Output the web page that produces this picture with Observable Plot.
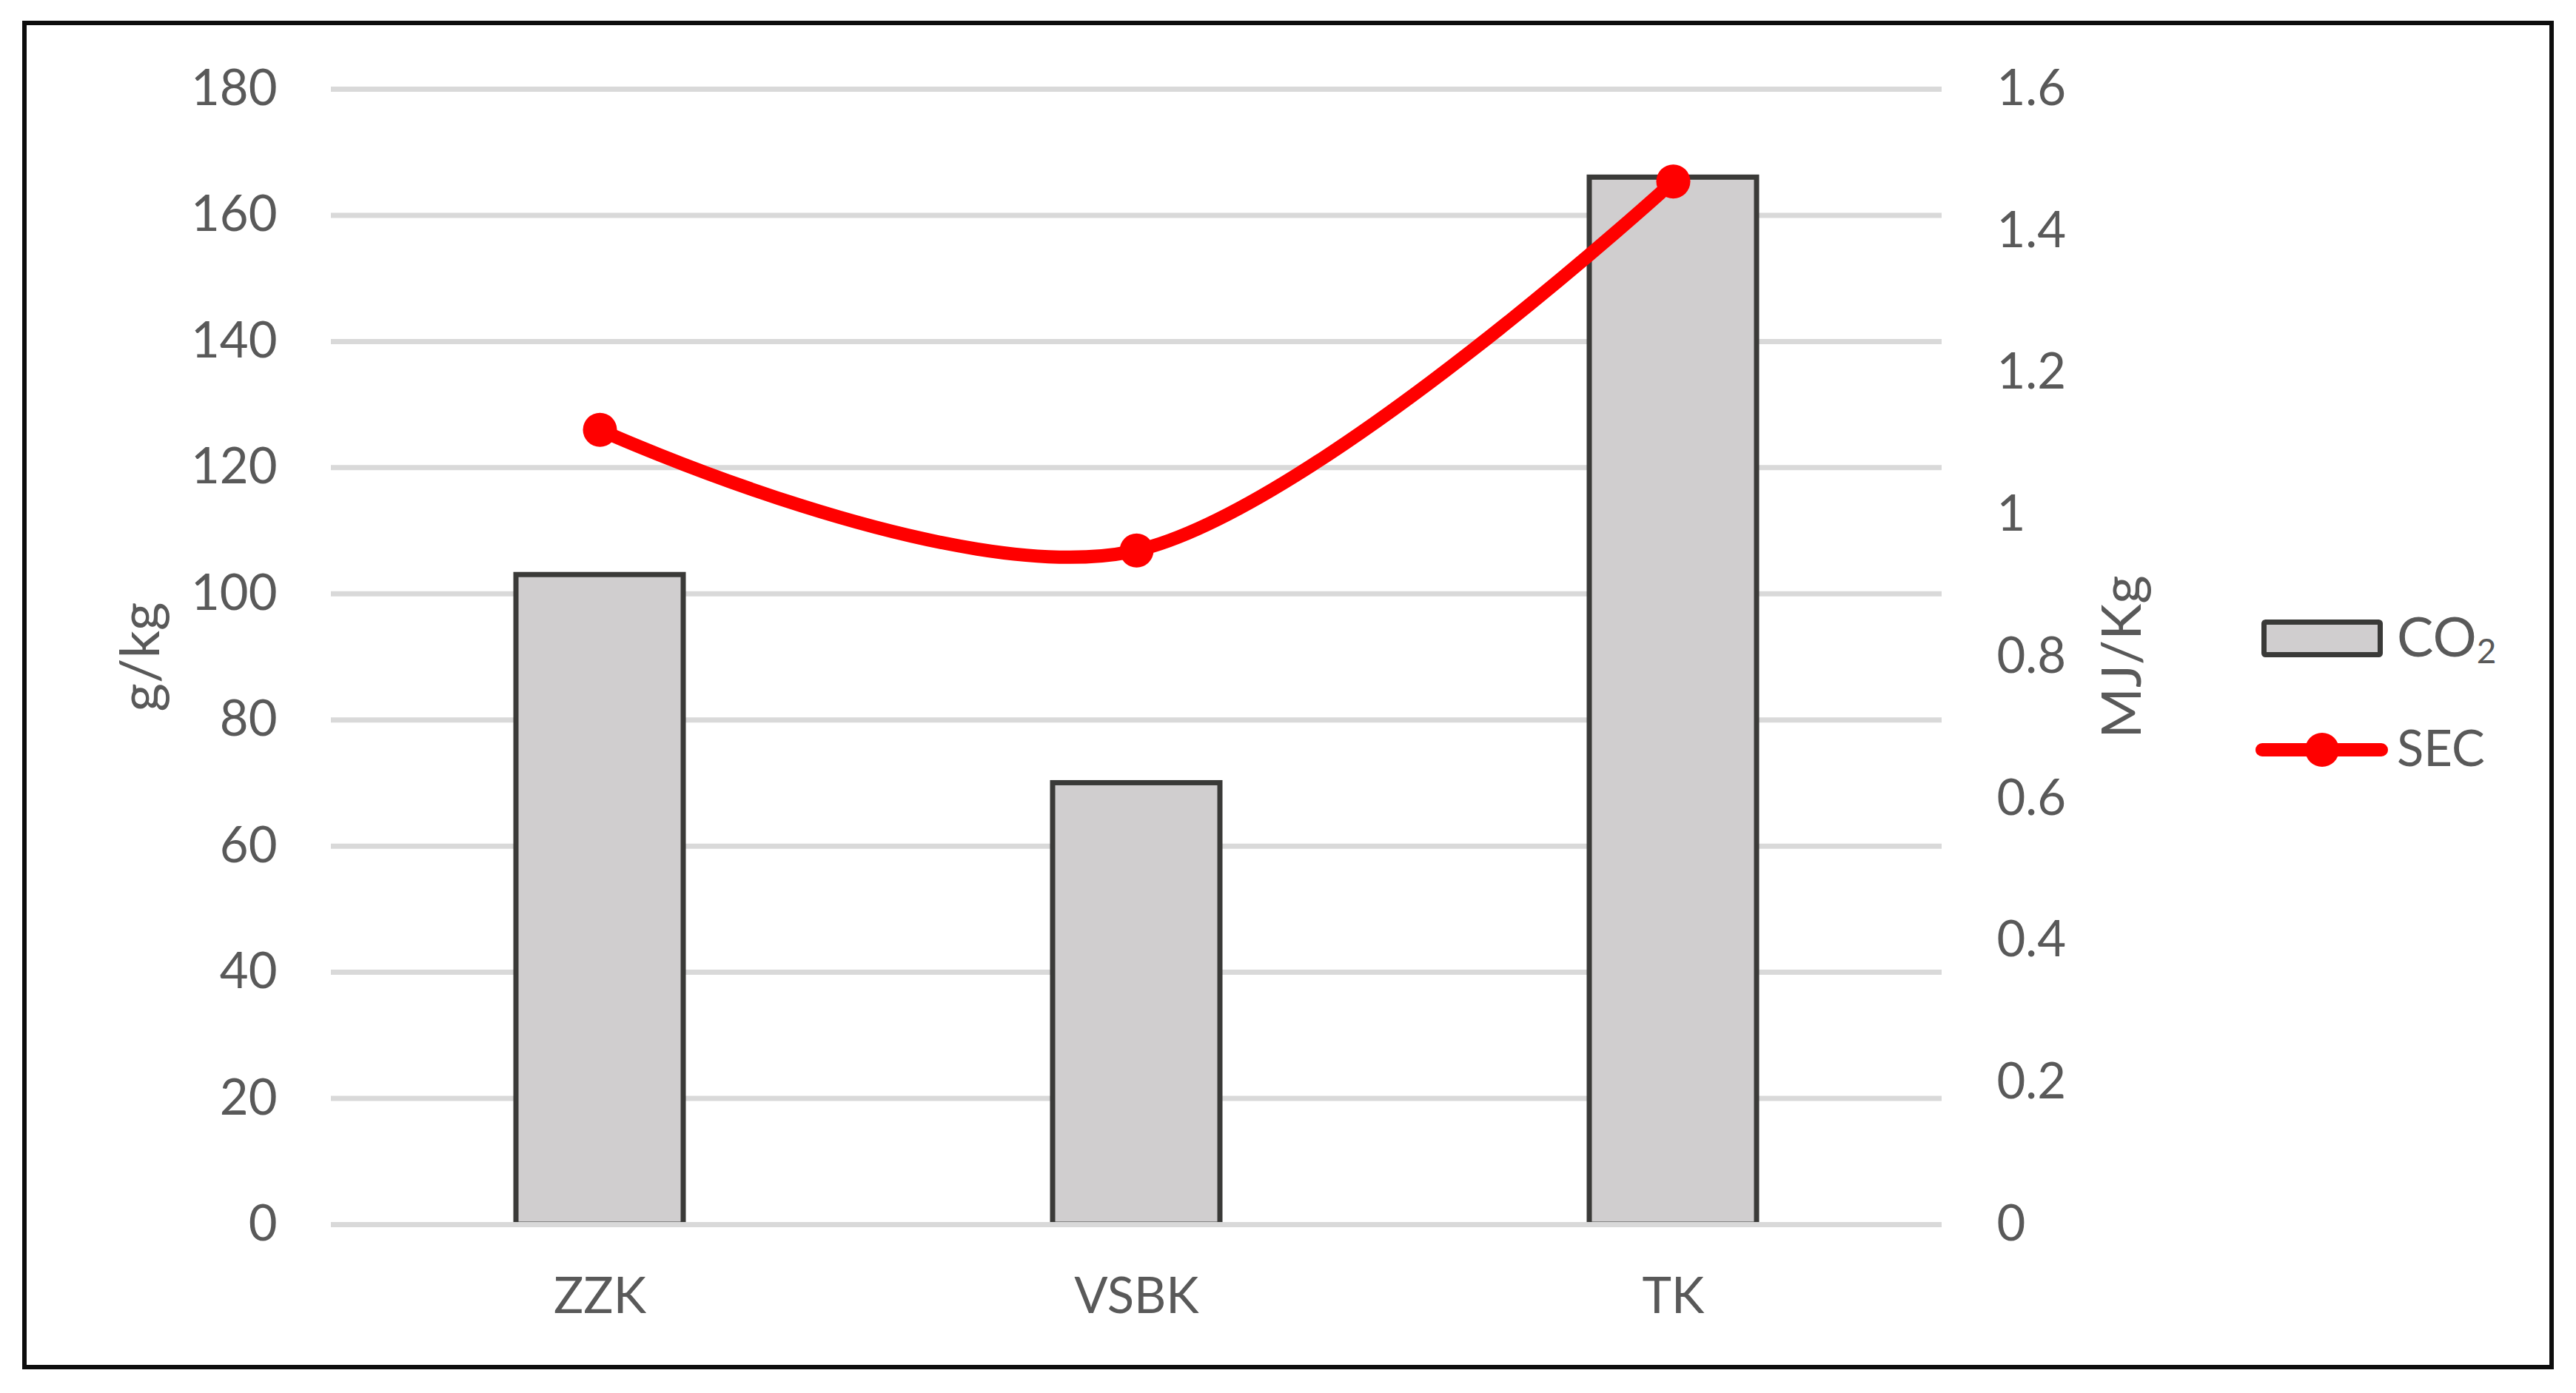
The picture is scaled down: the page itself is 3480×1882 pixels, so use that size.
<!DOCTYPE html>
<html><head><meta charset="utf-8">
<script src="https://cdn.jsdelivr.net/npm/d3@7"></script>
<script src="https://cdn.jsdelivr.net/npm/@observablehq/plot@0.6"></script>
<style>html,body{margin:0;padding:0;background:#fff;} #chart{width:3480px;height:1882px;}</style>
</head><body><div id="chart"></div>
<script>
const categories = ["ZZK", "VSBK", "TK"];
const co2 = [103, 70, 166];
const sec = [1.12, 0.95, 1.47];
const leftTicks = [0, 20, 40, 60, 80, 100, 120, 140, 160, 180];
const rightTicks = [0, 0.2, 0.4, 0.6, 0.8, 1, 1.2, 1.4, 1.6];
const leftLabel = "g/kg";
const rightLabel = "MJ/Kg";
const seriesNames = ["CO", "2", "SEC"]; // CO₂ is drawn as CO + subscript 2

const leftMax = 180, rightMax = 1.6, k = leftMax / rightMax;
const rows = categories.map((c, i) => ({cat: c, co2: co2[i], sec: sec[i], secScaled: sec[i] * k}));

const FONT = "Lato, 'Open Sans', sans-serif";
const TEXT = "#595959";
const BAR_FILL = "#D0CECF", BAR_STROKE = "#3A3A38", GRID = "#D9D9D9", RED = "#FF0000";

const plot = Plot.plot({
  width: 3480, height: 1882,
  marginLeft: 447, marginRight: 857, marginTop: 120, marginBottom: 228,
  style: {fontFamily: FONT, fontSize: "67px", color: TEXT, background: "#fff", overflow: "visible"},
  x: {type: "band", domain: categories, paddingInner: 0.688, paddingOuter: 0.344, label: null},
  y: {domain: [0, leftMax], label: null},
  marks: [
    Plot.gridY(leftTicks, {stroke: GRID, strokeOpacity: 1, strokeWidth: 7}),
    Plot.barY(rows, {x: "cat", y: "co2", fill: BAR_FILL, stroke: BAR_STROKE, strokeWidth: 7}),
    Plot.ruleY([0], {stroke: GRID, strokeOpacity: 1, strokeWidth: 7}),
    Plot.line(rows, {x: "cat", y: "secScaled", stroke: RED, strokeWidth: 18, curve: d3.curveCardinal.tension(0)}),
    Plot.dot(rows, {x: "cat", y: "secScaled", r: 23, fill: RED, stroke: "none"}),
    Plot.axisY({ticks: leftTicks, anchor: "left", tickSize: 0, tickPadding: 73, label: null}),
    Plot.axisY({ticks: rightTicks.map(v => v * k), anchor: "right", tickSize: 0, tickPadding: 74,
      tickFormat: d => String(+(d / k).toFixed(1)), label: null}),
    Plot.axisX({tickSize: 0, tickPadding: 72, label: null}),
    Plot.text([leftLabel], {text: d => d, frameAnchor: "left", textAnchor: "middle", lineAnchor: "middle",
      dx: -256, rotate: -90, fontSize: 74, fill: TEXT}),
    Plot.text([rightLabel], {text: d => d, frameAnchor: "right", textAnchor: "middle", lineAnchor: "middle",
      dx: 245, rotate: -90, fontSize: 74, fill: TEXT})
  ]
});

const svg = d3.select(plot);
// outer border
svg.append("rect").attr("x", 33).attr("y", 31).attr("width", 3414).attr("height", 1816)
  .attr("fill", "none").attr("stroke", "#0D0D0D").attr("stroke-width", 6);

// legend
const lg = svg.append("g").attr("font-family", FONT).attr("fill", TEXT).attr("text-anchor", "start");
lg.append("rect").attr("x", 3058.5).attr("y", 840.5).attr("width", 157).attr("height", 44)
  .attr("fill", BAR_FILL).attr("stroke", BAR_STROKE).attr("stroke-width", 7).attr("rx", 2);
const t1 = lg.append("text").attr("x", 3238).attr("y", 887).attr("font-size", 74);
t1.append("tspan").text(seriesNames[0]);
t1.append("tspan").attr("font-size", 46).attr("dy", 9).text(seriesNames[1]);
lg.append("line").attr("x1", 3056).attr("x2", 3217).attr("y1", 1013).attr("y2", 1013)
  .attr("stroke", RED).attr("stroke-width", 18).attr("stroke-linecap", "round");
lg.append("circle").attr("cx", 3137).attr("cy", 1013).attr("r", 23).attr("fill", RED);
lg.append("text").attr("x", 3238).attr("y", 1035).attr("font-size", 67).text(seriesNames[2]);

document.getElementById("chart").appendChild(plot);
</script>
</body></html>
